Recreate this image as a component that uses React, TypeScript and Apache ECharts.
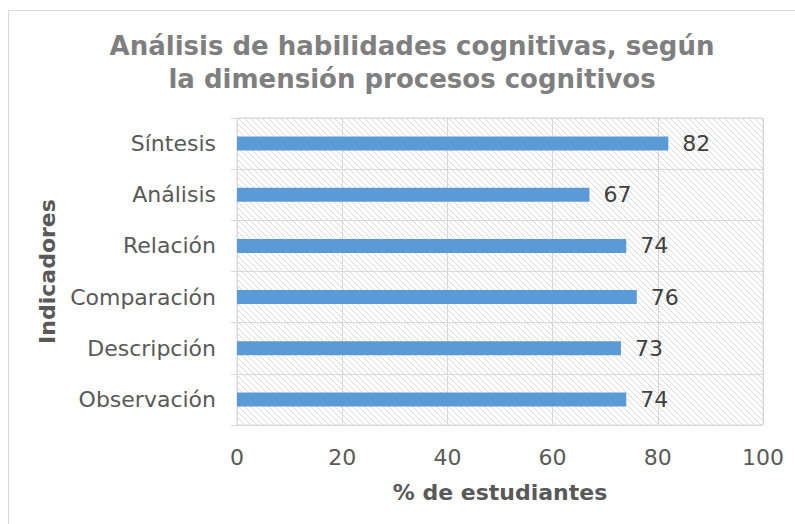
import React, { useEffect, useRef } from "react";
import * as echarts from "echarts";

const categories = ["Observación", "Descripción", "Comparación", "Relación", "Análisis", "Síntesis"];
const values = [74, 73, 76, 74, 67, 82];
const xTicks = [0, 20, 40, 60, 80, 100];

const titleText = "Análisis de habilidades cognitivas, según\nla dimensión procesos cognitivos";
const font = "DejaVu Sans, Verdana, sans-serif";

function hatchUrl(): string {
  const svg =
    '<svg xmlns="http://www.w3.org/2000/svg" width="6" height="6">' +
    '<path d="M-1,-1 L7,7 M-1,5 L1,7 M5,-1 L7,1" stroke="#d9d9d9" stroke-width="1"/></svg>';
  return "data:image/svg+xml;base64," + btoa(svg);
}

export default function App() {
  const ref = useRef<HTMLDivElement>(null);
  useEffect(() => {
    if (!ref.current) return;
    const chart = echarts.init(ref.current, undefined, { renderer: "svg" });
    const img = new Image();
    img.src = hatchUrl();
    const build = () => {
      chart.setOption({
        animation: false,
        title: {
          text: titleText,
          left: 407,
          textAlign: "center",
          top: 24,
          textStyle: { fontFamily: font, fontSize: 26, fontWeight: "bold", color: "#7f7f7f", lineHeight: 33 },
        },
        graphic: [
          {
            type: "rect",
            shape: { x: 8.5, y: 10.5, width: 800, height: 520 },
            style: { fill: "none", stroke: "#d9d9d9", lineWidth: 1 },
            silent: true,
          },
        ],
        grid: {
          left: 237,
          right: 32,
          top: 118,
          bottom: 99,
          show: true,
          borderColor: "#d9d9d9",
          borderWidth: 1,
          backgroundColor: { image: img, repeat: "repeat" } as any,
        },
        xAxis: {
          type: "value",
          min: 0,
          max: 100,
          interval: 20,
          name: "% de estudiantes",
          nameLocation: "middle",
          nameGap: 56,
          nameTextStyle: { fontFamily: font, fontSize: 22, fontWeight: "bold", color: "#595959" },
          axisLine: { show: false },
          axisTick: { show: false },
          axisLabel: {
            margin: 21,
            fontFamily: font,
            fontSize: 22,
            color: "#595959",
            formatter: (v: number) => (xTicks.includes(v) ? String(v) : ""),
          },
          splitLine: { show: true, lineStyle: { color: "#d9d9d9", width: 1 } },
        },
        yAxis: {
          type: "category",
          data: categories,
          name: "Indicadores",
          nameLocation: "middle",
          nameGap: 179,
          nameRotate: 90,
          nameTextStyle: { fontFamily: font, fontSize: 22, fontWeight: "bold", color: "#595959" },
          axisLine: { show: true, lineStyle: { color: "#d9d9d9" } },
          axisTick: { show: true, length: 6, lineStyle: { color: "#d9d9d9" } },
          axisLabel: { margin: 21, fontFamily: font, fontSize: 22, color: "#595959" },
          splitLine: { show: true, lineStyle: { color: "#d9d9d9", width: 1 } },
        },
        series: [
          {
            type: "bar",
            data: values,
            barWidth: 14,
            itemStyle: { color: "#5b9bd5" },
            label: {
              show: true,
              position: "right",
              distance: 14,
              fontFamily: font,
              fontSize: 22,
              color: "#404040",
            },
          },
        ],
      });
    };
    if (img.complete) build();
    else {
      img.onload = build;
      build();
    }
    return () => chart.dispose();
  }, []);
  return (
    <div
      ref={ref}
      style={{ position: "fixed", left: 0, top: 0, width: 795, height: 524, background: "#fff" }}
    />
  );
}
